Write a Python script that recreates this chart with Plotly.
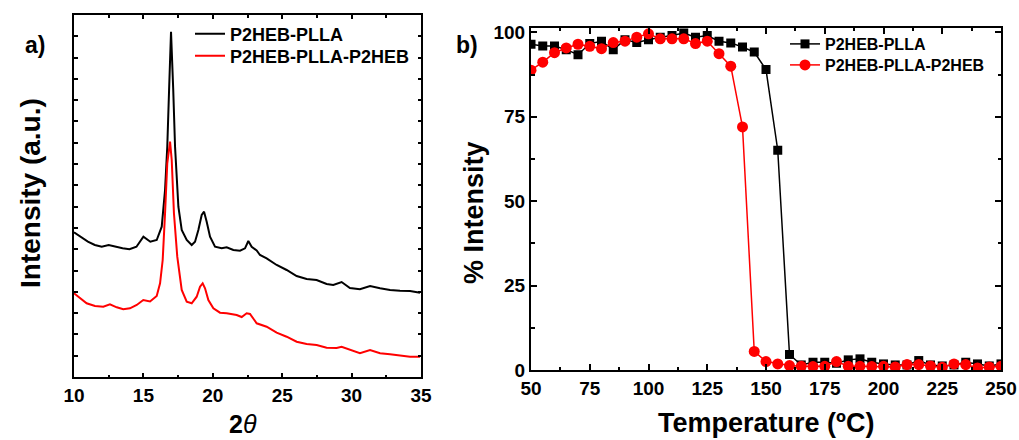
import plotly.graph_objects as go

# ---------------- panel a) XRD ----------------
two_theta_plla = [10.0, 10.5, 11.0, 11.5, 12.0, 12.5, 13.0, 13.5, 14.0, 14.5, 15.0, 15.5, 15.96,
                  16.32, 16.56, 16.72, 16.85, 16.99, 17.15, 17.28, 17.52, 17.76, 18.12, 18.48,
                  18.72, 18.96, 19.2, 19.37, 19.56, 19.8, 20.16, 20.64, 21.0, 21.48, 21.96,
                  22.32, 22.56, 22.8, 23.16, 23.4, 23.88, 24.6, 25.32, 26.04, 26.76, 27.48,
                  28.2, 28.68, 29.28, 29.88, 30.6, 31.33, 32.05, 32.77, 33.49, 34.21, 34.93]
intensity_plla = [144.7, 140.3, 135.3, 132, 130.3, 132, 130.3, 128.7, 127.7, 130.3, 140.3, 135.3, 137,
                  150.3, 187, 230.3, 287, 345.3, 287, 230.3, 170.3, 147, 137, 132,
                  135.3, 147, 162, 165.3, 155.3, 140.3, 130.3, 128.7, 129.7, 127, 126.3,
                  128.7, 136, 130.3, 126.5, 122, 118.7, 112, 107, 101, 98, 97,
                  93, 92, 95, 89, 87.7, 91, 88.7, 87, 86.3, 86, 84.3]

two_theta_tri = [10.0, 10.43, 10.91, 11.51, 12.11, 12.59, 13.08, 13.55, 14.03, 14.52, 14.99, 15.48,
                 15.96, 16.2, 16.39, 16.56, 16.72, 16.92, 17.04, 17.2, 17.44, 17.76, 18.12, 18.48,
                 18.84, 19.08, 19.27, 19.44, 19.68, 20.04, 20.52, 21.0, 21.72, 22.08, 22.44, 22.68,
                 23.16, 23.88, 24.6, 25.32, 26.04, 26.76, 27.48, 28.2, 28.92, 29.28, 29.88, 30.6,
                 31.33, 32.05, 32.77, 33.49, 34.21, 34.93]
intensity_tri = [83.7, 78.7, 73.7, 71, 70.3, 72.7, 69.7, 67.7, 68.7, 72, 77, 75.5,
                 81, 93.7, 117, 163.7, 213.7, 235.3, 217, 163.7, 120.3, 87, 75.3, 73.7,
                 80.3, 90.3, 93.7, 88.7, 77, 68.7, 64.3, 63.7, 62, 60, 63.7, 63,
                 53.7, 50.3, 44.3, 40.3, 35.3, 33, 32, 29.3, 29, 30.3, 27, 23.7,
                 27, 23.7, 22.7, 21.3, 20.3, 20.3]

# ---------------- panel b) % intensity vs temperature ----------------
temperature = [50, 55, 60, 65, 70, 75, 80, 85, 90, 95, 100, 105, 110, 115, 120, 125, 130, 135,
               140, 145, 150, 155, 160, 165, 170, 175, 180, 185, 190, 195, 200, 205, 210, 215,
               220, 225, 230, 235, 240, 245, 250]
pct_plla = [96.5, 96.0, 96.0, 94.9, 93.4, 96.7, 97.4, 94.9, 97.8, 97.0, 97.8, 98.6, 99.1, 99.8,
            98.6, 99.1, 97.4, 96.9, 95.7, 94.2, 89.0, 65.1, 4.6, 1.5, 2.3, 2.3, 2.0, 3.0, 3.3,
            2.3, 1.8, 1.5, 1.5, 2.8, 1.5, 1.2, 1.5, 2.3, 1.8, 1.2, 1.8]
pct_tri = [88.8, 91.2, 94.0, 95.4, 96.5, 95.9, 95.2, 97.0, 97.4, 98.6, 99.6, 98.1, 98.1, 98.1,
           96.7, 97.4, 93.7, 90.0, 72.0, 5.5, 2.5, 1.8, 1.3, 1.1, 1.0, 1.1, 2.5, 1.1, 1.1,
           1.0, 1.1, 0.9, 1.6, 1.6, 1.2, 0.8, 1.8, 1.6, 0.6, 0.9, 1.1]

names = ["P2HEB-PLLA", "P2HEB-PLLA-P2HEB"]
colors = ["#000000", "#ff0000"]

W, H = 1019, 440
FONT = "Liberation Sans, Arial, sans-serif"


def px_x(p):
    return p / W


def px_y(p):
    return 1 - p / H


fig = go.Figure()

fig.add_trace(go.Scatter(x=two_theta_plla, y=intensity_plla, mode="lines", name=names[0],
                         line=dict(color=colors[0], width=2), xaxis="x", yaxis="y",
                         legend="legend"))
fig.add_trace(go.Scatter(x=two_theta_tri, y=intensity_tri, mode="lines", name=names[1],
                         line=dict(color=colors[1], width=2), xaxis="x", yaxis="y",
                         legend="legend3"))

fig.add_trace(go.Scatter(x=temperature, y=pct_plla, mode="lines+markers", name=names[0],
                         line=dict(color=colors[0], width=1.5),
                         marker=dict(symbol="square", size=9, color=colors[0]),
                         xaxis="x2", yaxis="y2", legend="legend2"))
fig.add_trace(go.Scatter(x=temperature, y=pct_tri, mode="lines+markers", name=names[1],
                         line=dict(color=colors[1], width=1.5),
                         marker=dict(symbol="circle", size=11, color=colors[1]),
                         xaxis="x2", yaxis="y2", legend="legend4"))

tickfont = dict(family=FONT, size=19, color="black", weight="bold")
common = dict(showline=True, linecolor="black", linewidth=2, mirror="allticks",
              ticks="inside", tickcolor="black", showgrid=False, zeroline=False,
              tickfont=tickfont, automargin=False)


def legend_at(xpx, ypx, size):
    return dict(x=px_x(xpx), y=px_y(ypx), xanchor="left", yanchor="middle",
                bgcolor="rgba(0,0,0,0)", borderwidth=0, tracegroupgap=0,
                font=dict(family=FONT, size=size, color="black", weight="bold"))


fig.update_layout(
    width=W, height=H,
    margin=dict(l=0, r=0, t=0, b=0, autoexpand=False),
    paper_bgcolor="white", plot_bgcolor="white",
    font=dict(family=FONT, color="black"),
    xaxis=dict(domain=[px_x(74), px_x(421)], range=[10, 35], anchor="y",
               tickmode="linear", tick0=10, dtick=5, ticklen=4, tickwidth=1.5,
               minor=dict(ticks="inside", dtick=2.5, tick0=10, ticklen=2.5,
                          tickcolor="black", tickwidth=1.5),
               **common),
    yaxis=dict(domain=[px_y(377), px_y(15)], range=[0, 362], anchor="x",
               tickmode="linear", tick0=0, dtick=21.3, ticklen=3.5, tickwidth=1.5,
               showticklabels=False, **common),
    xaxis2=dict(domain=[px_x(531), px_x(1001)], range=[50, 250], anchor="y2",
                tickmode="linear", tick0=50, dtick=25, ticklen=6, tickwidth=1.5,
                minor=dict(ticks="inside", dtick=12.5, tick0=50, ticklen=3.5,
                           tickcolor="black", tickwidth=1.5),
                **common),
    yaxis2=dict(domain=[px_y(370), px_y(27.7)], range=[0, 101.4], anchor="x2",
                tickmode="linear", tick0=0, dtick=25, ticklen=6, tickwidth=1.5,
                minor=dict(ticks="inside", dtick=12.5, tick0=0, ticklen=3.5,
                           tickcolor="black", tickwidth=1.5),
                **common),
    legend=legend_at(190, 34, 18),
    legend3=legend_at(190, 56, 18),
    legend2=legend_at(785, 44, 16),
    legend4=legend_at(785, 65, 16),
    showlegend=True,
)

ann_font = dict(family=FONT, size=27, color="black", weight="bold")
annotations = [
    dict(text="a)", x=px_x(35), y=px_y(45), font=dict(family=FONT, size=23, color="black", weight="bold")),
    dict(text="b)", x=px_x(467), y=px_y(45), font=dict(family=FONT, size=23, color="black", weight="bold")),
    dict(text="Intensity (a.u.)", x=px_x(30), y=px_y(193), textangle=-90,
         font=dict(family=FONT, size=28, color="black", weight="bold")),
    dict(text="% Intensity", x=px_x(474), y=px_y(213), textangle=-90, font=ann_font),
    dict(text="Temperature (ºC)", x=px_x(766), y=px_y(423), font=ann_font),
    dict(text="<b>2</b><i>θ</i>", x=px_x(243), y=px_y(424),
         font=dict(family=FONT, size=25, color="black")),
]
for a in annotations:
    a.update(xref="paper", yref="paper", showarrow=False, xanchor="center", yanchor="middle")
fig.update_layout(annotations=annotations)

fig.write_html("out.html")
